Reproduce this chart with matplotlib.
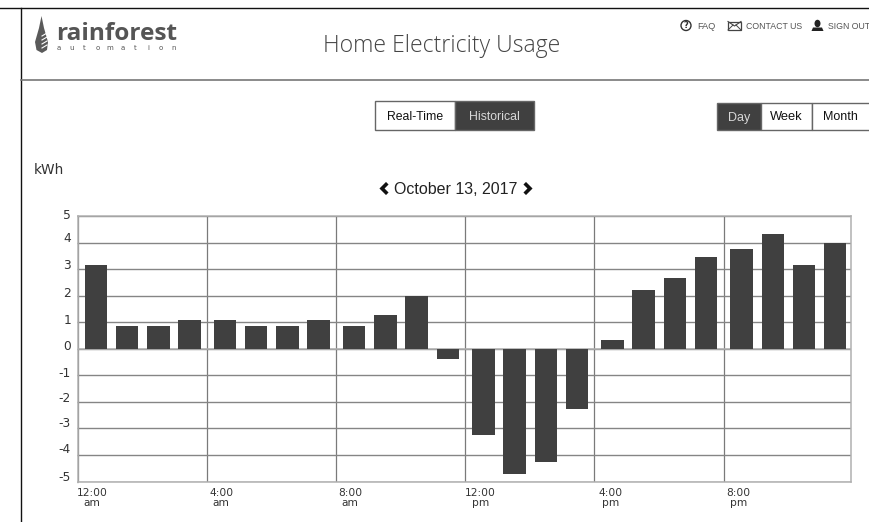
import matplotlib
matplotlib.use("Agg")
import matplotlib.pyplot as plt
from matplotlib.patches import Rectangle, Polygon, Circle, Ellipse
from matplotlib.transforms import ScaledTranslation
import numpy as np

W, H = 869, 522
hours = list(range(24))
values = [3.17, 0.87, 0.87, 1.10, 1.10, 0.87, 0.87, 1.10, 0.87, 1.29, 2.00, -0.38,
          -3.26, -4.73, -4.25, -2.27, 0.33, 2.23, 2.67, 3.44, 3.74, 4.32, 3.16, 4.00]
y_ticks = [5, 4, 3, 2, 1, 0, -1, -2, -3, -4, -5]
y_label_shift_px = [2, 5.5, 5, 4, 3.5, 3.5, 3, 5, 6.5, 7, 5.5]
x_ticks = [0, 4, 8, 12, 16, 20]
x_labels = ["12:00\nam", "4:00\nam", "8:00\nam", "12:00\npm", "4:00\npm", "8:00\npm"]
x_label_shift_px = [14, 14, 14, 15, 16, 15]

DARK = "#404040"
GRID = "#858585"
plt.rcParams["font.family"] = ["DejaVu Sans"]

fig = plt.figure(figsize=(W / 100, H / 100), dpi=100, facecolor="white")

# page overlay in pixel coordinates
pg = fig.add_axes([0, 0, 1, 1], zorder=0)
pg.set_xlim(0, W)
pg.set_ylim(H, 0)
pg.axis("off")

# chart
L, R, T, B = 78, 851, 216, 481.5
ax = fig.add_axes([L / W, 1 - B / H, (R - L) / W, (B - T) / H], zorder=1)
ax.set_xlim(0, 23.95)
ax.set_ylim(-5, 5)
ax.patch.set_alpha(0)
for s in ax.spines.values():
    s.set_color("#b0b0b0")
    s.set_linewidth(1.1)
ax.set_axisbelow(True)
ax.yaxis.grid(True, color=GRID, lw=1.0)
ax.xaxis.grid(True, color="#7a7a7a", lw=0.9)
centers = [(h // 4) * 4 + 0.56 + (h % 4) * 0.965 for h in hours]
ax.bar(centers, values, width=0.69, color=DARK, edgecolor="none", zorder=3)
ax.axhline(0, color="#b0b0b0", lw=1.1, zorder=2)

ax.set_yticks(y_ticks)
ax.set_yticklabels([str(v) for v in y_ticks], fontsize=8.8, color="#333333")
ax.set_xticks(x_ticks)
ax.set_xticklabels(x_labels, fontsize=7.7, color="#333333", linespacing=1.0)
ax.tick_params(axis="y", length=1, width=1, color=GRID, pad=4)
ax.tick_params(axis="x", length=0, pad=5)
for lab, dy in zip(ax.get_yticklabels(), y_label_shift_px):
    lab.set_transform(lab.get_transform() + ScaledTranslation(0, dy / 100, fig.dpi_scale_trans))
for lab, dx in zip(ax.get_xticklabels(), x_label_shift_px):
    lab.set_transform(lab.get_transform() + ScaledTranslation(dx / 100, 0, fig.dpi_scale_trans))

# frame and header rule
pg.plot([0, W], [8, 8], color="#111111", lw=1.0)
pg.plot([20.5, 20.5], [8, H], color="#111111", lw=1.0)
pg.plot([21, W], [80, 80], color="#777777", lw=1.2)

# logo
pg.add_patch(Polygon([(41.5, 16), (44, 28), (48, 42), (47, 50), (42, 53), (36.5, 50), (35, 42), (39, 28)],
                     closed=True, fc="#5a5a5a", ec="none"))
for yy in (33, 37, 41, 45):
    pg.plot([42, 47], [yy + 3, yy], color="white", lw=0.8)
pg.text(56, 34.5, "rainforest", fontsize=17.6, fontweight="bold", family="Open Sans",
        color="#555555", ha="left", va="center")
for ch, xp in zip("automation", np.linspace(59, 174, 10)):
    pg.text(xp, 48.5, ch, fontsize=5, color="#555555", ha="center", va="center")

# title
pg.text(442, 46, "Home Electricity Usage", fontsize=16.6, family="Open Sans", color="#444444",
        ha="center", va="center", fontweight="light")

# top links
LINK = "Liberation Sans"
pg.add_patch(Circle((686, 25.5), 5, fc="white", ec="#333333", lw=1))
pg.text(686, 25.5, "?", fontsize=6, fontweight="bold", color="#333333", ha="center", va="center")
pg.text(697, 26.5, "FAQ", fontsize=6.6, family=LINK, color="#555555", ha="left", va="center")
pg.add_patch(Rectangle((728, 21.5), 13, 8.5, fc="white", ec="#444444", lw=0.9))
pg.plot([728, 734.5, 741], [21.5, 26, 21.5], color="#444444", lw=0.8)
pg.plot([728, 733], [30, 25], color="#444444", lw=0.7)
pg.plot([741, 736], [30, 25], color="#444444", lw=0.7)
pg.text(746, 26.5, "CONTACT US", fontsize=6.3, family=LINK, color="#555555", ha="left", va="center")
pg.add_patch(Ellipse((817.5, 23.5), 6, 7.5, fc="#222222", ec="none"))
pg.add_patch(Polygon([(811.5, 31), (813, 27.5), (822, 27.5), (823.5, 31)], closed=True, fc="#222222", ec="none"))
pg.text(828, 26.5, "SIGN OUT", fontsize=6.3, family=LINK, color="#555555", ha="left", va="center")


def button(x0, x1, y0, y1, label, active, tx=None, size=8.8):
    pg.add_patch(Rectangle((x0, y0), x1 - x0, y1 - y0, fc=DARK if active else "white",
                           ec="#666666", lw=1.0))
    pg.text((x0 + x1) / 2 if tx is None else tx, 120.5, label, fontsize=size,
            family="Liberation Sans", color="#d8d8d8" if active else "#111111",
            ha="center", va="baseline")


button(375, 455, 101, 130, "Real-Time", False)
button(455, 534, 101, 130, "Historical", True)
button(717, 761, 102.5, 130, "Day", True, size=9)
button(761, 812, 102.5, 130, "Week", False, size=9.3)
button(812, 885, 102.5, 130, "Month", False, tx=840, size=9)

# y unit and date
pg.text(34, 170.5, "kWh", fontsize=9.9, color="#333333", ha="left", va="center")
pg.text(456, 190, "October 13, 2017", fontsize=11.5, family="Liberation Sans", color="#222222",
        ha="center", va="center")
pg.plot([386, 382, 386], [184.5, 188.5, 192.5], color="#111111", lw=2.6, solid_joinstyle="miter")
pg.plot([526, 530, 526], [184.5, 188.5, 192.5], color="#111111", lw=2.6, solid_joinstyle="miter")

fig.savefig("out.png", dpi=100)
